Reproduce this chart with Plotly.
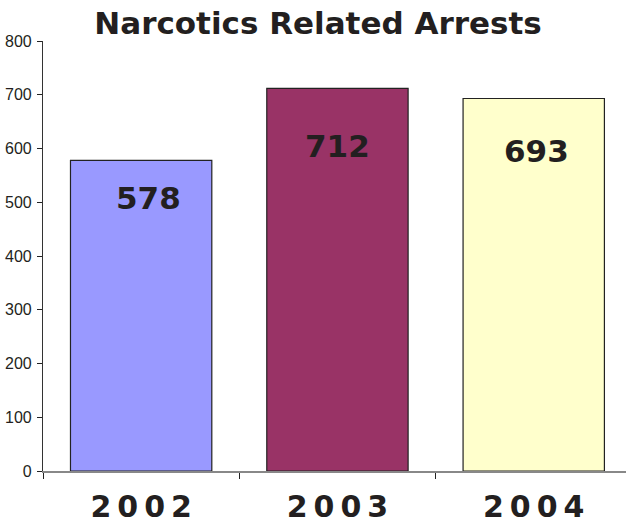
import plotly.graph_objects as go

years = ["2002", "2003", "2004"]
arrests = [578, 712, 693]
bar_colors = ["#9999FF", "#993366", "#FFFFCC"]
label_shift = [-38, -58, -52]
label_xshift = [7, 0, 3]
y_ticks = [0, 100, 200, 300, 400, 500, 600, 700, 800]

fig = go.Figure()
fig.add_trace(go.Bar(
    x=years, y=arrests,
    marker=dict(color=bar_colors, line=dict(color="#222222", width=1.2)),
    hoverinfo="skip",
))
for i, (v, s, xs) in enumerate(zip(arrests, label_shift, label_xshift)):
    fig.add_annotation(x=i, y=v, xref="x", yref="y", text="<b>%d</b>" % v,
                       showarrow=False, yshift=s, xshift=xs,
                       font=dict(family="DejaVu Sans", size=31, color="#231f20"),
                       yanchor="middle")

fig.update_layout(
    width=626, height=524,
    margin=dict(l=43, r=0, t=41, b=51),
    paper_bgcolor="white", plot_bgcolor="white",
    bargap=0.28,
    showlegend=False,
    title=dict(text="<b>Narcotics Related Arrests</b>", x=0.508, xanchor="center",
               y=1 - 23 / 524, yanchor="middle",
               font=dict(family="DejaVu Sans", size=31, color="#231f20")),
)
fig.update_xaxes(
    type="category", range=[-0.5, 2.47],
    tickmode="array", tickvals=years,
    ticktext=["<b>" + "\u2009".join(list(y)) + "</b>" for y in years],
    tickfont=dict(family="DejaVu Sans", size=30, color="#231f20"),
    tickson="boundaries", ticks="outside", ticklen=6, tickcolor="#222222",
    showline=True, linecolor="#888888", linewidth=1.5,
    showgrid=False, zeroline=False, ticklabelstandoff=8,
)
fig.update_yaxes(
    range=[0, 800], tickvals=y_ticks,
    tickfont=dict(family="Liberation Sans Narrow, Liberation Sans", size=16, color="#231f20"),
    ticks="outside", ticklen=5, tickcolor="#222222",
    showline=True, linecolor="#333333", linewidth=1.2,
    showgrid=False, zeroline=False, ticklabelstandoff=2,
)
fig.write_html("out.html")
